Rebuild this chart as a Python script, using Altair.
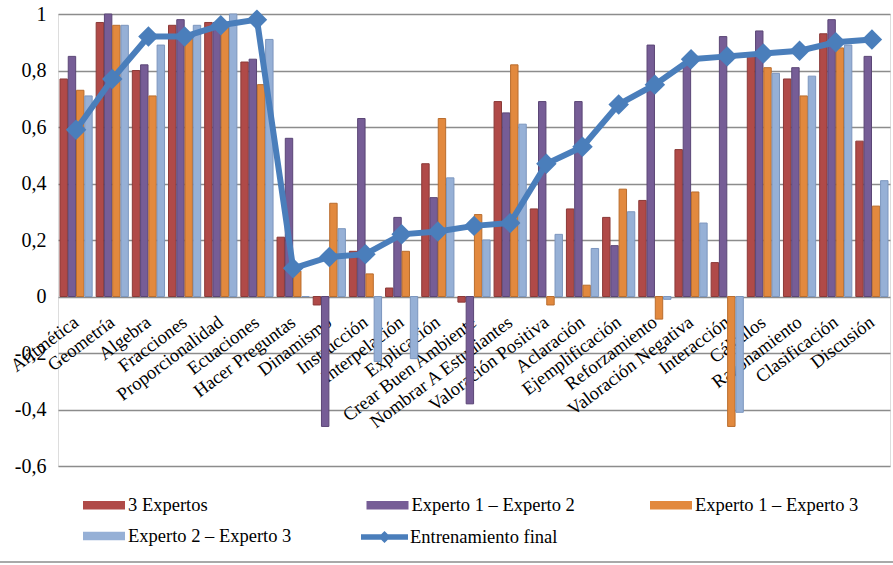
import altair as alt
import pandas as pd

# Categories along the x axis
categories = [
    "Aritmética", "Geometría", "Algebra", "Fracciones", "Proporcionalidad",
    "Ecuaciones", "Hacer Preguntas", "Dinamismo", "Instrucción", "Interpelación",
    "Explicación", "Crear Buen Ambiente", "Nombrar A Estudiantes", "Valoración Positiva",
    "Aclaración", "Ejemplificación", "Reforzamiento", "Valoración Negativa", "Interacción",
    "Cálculos", "Razonamiento", "Clasificación", "Discusión",
]

series_names = ["3 Expertos", "Experto 1 – Experto 2", "Experto 1 – Experto 3", "Experto 2 – Experto 3"]
line_name = "Entrenamiento final"

tres_expertos = [0.77, 0.97, 0.80, 0.96, 0.97, 0.83, 0.21, -0.03, 0.16, 0.03, 0.47, -0.02,
                 0.69, 0.31, 0.31, 0.28, 0.34, 0.52, 0.12, 0.85, 0.77, 0.93, 0.55]
experto_1_2 = [0.85, 1.00, 0.82, 0.98, 0.97, 0.84, 0.56, -0.46, 0.63, 0.28, 0.35, -0.38,
               0.65, 0.69, 0.69, 0.18, 0.89, 0.83, 0.92, 0.94, 0.81, 0.98, 0.85]
experto_1_3 = [0.73, 0.96, 0.71, 0.92, 0.96, 0.75, 0.09, 0.33, 0.08, 0.16, 0.63, 0.29,
               0.82, -0.03, 0.04, 0.38, -0.08, 0.37, -0.46, 0.81, 0.71, 0.88, 0.32]
experto_2_3 = [0.71, 0.96, 0.89, 0.96, 1.00, 0.91, 0.00, 0.24, -0.23, -0.22, 0.42, 0.20,
               0.61, 0.22, 0.17, 0.30, -0.01, 0.26, -0.41, 0.79, 0.78, 0.89, 0.41]
entrenamiento_final = [0.59, 0.77, 0.92, 0.92, 0.96, 0.98, 0.10, 0.14, 0.15, 0.22, 0.23, 0.25,
                       0.26, 0.47, 0.53, 0.68, 0.75, 0.84, 0.85, 0.86, 0.87, 0.90, 0.91]

bar_fills = ["#B04A48", "#765D96", "#E2893E", "#96B0D6"]
bar_strokes = ["#8B3A38", "#5B4676", "#B96D2E", "#7C96BE"]
line_color = "#4A7EBB"
font = "Liberation Serif"

rows = []
for name, vals in zip(series_names, [tres_expertos, experto_1_2, experto_1_3, experto_2_3]):
    for cat, v in zip(categories, vals):
        rows.append({"categoria": cat, "serie": name, "valor": v})
bars_df = pd.DataFrame(rows)
line_df = pd.DataFrame({"categoria": categories, "valor": entrenamiento_final, "serie": line_name})

y_ticks = [-0.6, -0.4, -0.2, 0, 0.2, 0.4, 0.6, 0.8, 1]

x_enc = alt.X(
    "categoria:N", sort=categories,
    scale=alt.Scale(paddingInner=0.11, paddingOuter=0.055),
    axis=alt.Axis(
        title=None, labelAngle=-37, labelAlign="right", labelBaseline="middle",
        labelFontSize=18.5, labelFont=font, labelColor="black", labelPadding=23,
        labelLimit=400, offset=-169.5, domain=False, ticks=False, grid=False,
    ),
)
y_enc = alt.Y(
    "valor:Q",
    scale=alt.Scale(domain=[-0.6, 1], nice=False, zero=False),
    axis=alt.Axis(
        title=None, values=y_ticks, grid=True, gridColor="#8C8C8C", gridWidth=1.3,
        domain=False, ticks=False, labelFontSize=20, labelFont=font, labelColor="black",
        labelPadding=12,
        labelExpr="(datum.value < -0.001 ? '-' : '') + replace(format(abs(datum.value), '.2~g'), '.', ',')",
    ),
)

bar_legend = alt.Legend(
    title=None, orient="none", legendX=25, legendY=470, columns=3, gridAlign="all",
    direction="horizontal", values=series_names,
    symbolType="M-1,-0.2H1V0.2H-1Z", symbolSize=1764, symbolStrokeWidth=0,
    labelFontSize=18.5, labelFont=font, labelColor="black", labelOffset=3, labelLimit=300,
    columnPadding=74.5, rowPadding=-11, padding=0,
)

bars = alt.Chart(bars_df).mark_bar(strokeWidth=1).encode(
    x=x_enc,
    xOffset=alt.XOffset("serie:N", sort=series_names, scale=alt.Scale(paddingInner=0.1)),
    y=y_enc,
    fill=alt.Fill("serie:N", scale=alt.Scale(domain=series_names, range=bar_fills), legend=bar_legend),
    stroke=alt.Stroke("serie:N", scale=alt.Scale(domain=series_names, range=bar_strokes), legend=None),
)

line = alt.Chart(line_df).mark_line(strokeWidth=6, color=line_color).encode(
    x=alt.X("categoria:N", sort=categories),
    y="valor:Q",
)

points = alt.Chart(line_df).mark_point(shape="diamond", filled=True, size=420, opacity=1).encode(
    x=alt.X("categoria:N", sort=categories),
    y="valor:Q",
    fill=alt.Fill("serie:N", scale=alt.Scale(domain=[line_name], range=[line_color]),
                  legend=alt.Legend(
                      title=None, orient="none", legendX=302, legendY=498.5,
                      symbolType="M-1,-0.12H1V0.12H-1Z M0,-0.26L0.26,0L0,0.26L-0.26,0Z",
                      symbolSize=2209, labelFontSize=18.5, labelFont=font,
                      labelColor="black", labelOffset=1, labelLimit=300, padding=0,
                  )),
)

# thin frame line along the bottom of the figure
frame = alt.Chart(pd.DataFrame({"k": [0]})).mark_rule(color="#8C8C8C", strokeWidth=1.5).encode(
    x=alt.value(-58), x2=alt.value(835), y=alt.value(548),
)

chart = (
    alt.layer(bars, line, points, frame)
    .resolve_scale(fill="independent", stroke="independent")
    .properties(
        width=832, height=452,
        autosize=alt.AutoSizeParams(type="none"),
        padding={"left": 58, "top": 14, "right": 3, "bottom": 99},
        background="white",
    )
    .configure_view(fill="#E8E8E8", strokeWidth=0)
    .configure(font=font)
)

chart.save("out.html", embed_options={"renderer": "svg", "actions": False})
